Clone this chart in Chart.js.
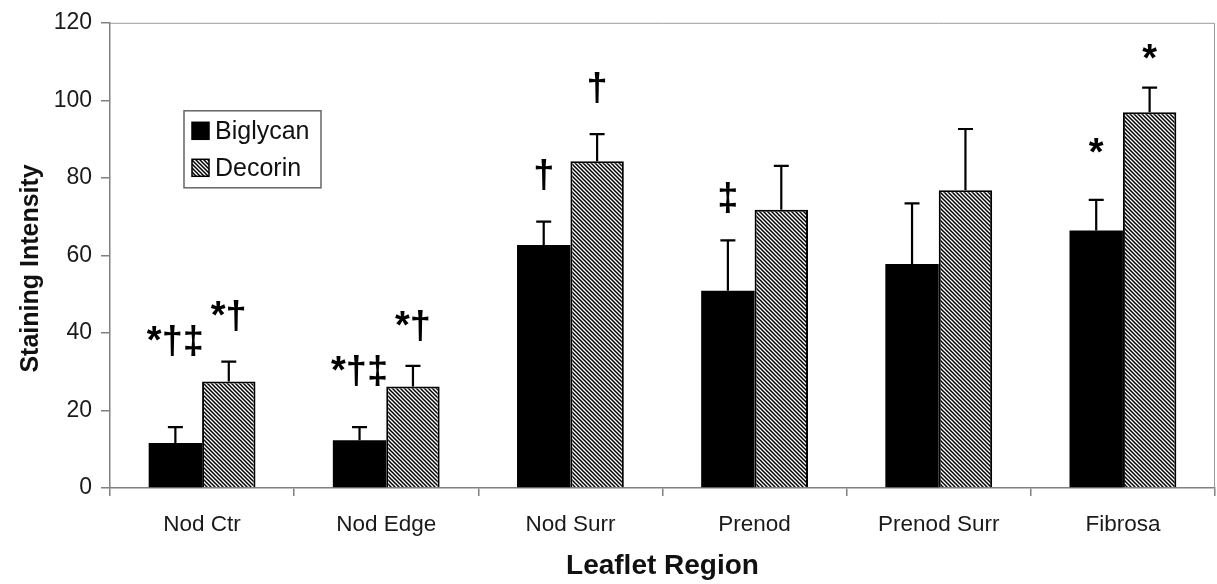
<!DOCTYPE html>
<html>
<head>
<meta charset="utf-8">
<script src="https://cdn.jsdelivr.net/npm/chart.js@4.4.1/dist/chart.umd.min.js"></script>
<style>
  html, body { margin: 0; padding: 0; background: #fff; }
  #wrap { width: 1217px; height: 584px; }
</style>
</head>
<body>
<div id="wrap"><canvas id="chart" width="1217" height="584"></canvas></div>
<script>
// Data
const regions = ["Nod Ctr", "Nod Edge", "Nod Surr", "Prenod", "Prenod Surr", "Fibrosa"];
const biglycan   = [11.6, 12.3, 62.7, 50.9, 57.8, 66.4];
const biglycanSd = [4.1, 3.4, 6.0, 13.0, 15.6, 7.9];
const decorin    = [27.5, 26.2, 84.3, 71.8, 76.8, 96.9];
const decorinSd  = [5.1, 5.3, 7.0, 11.3, 15.8, 6.4];

// significance marks and the value level they sit at
const biglycanMarks  = ["*†‡", "*†‡", "†", "‡", "", "*"];
const biglycanMarkAt = [37.5, 29.7, 80.4, 74.5, null, 86];
const decorinMarks   = ["*†", "*†", "†", "", "", "*"];
const decorinMarkAt  = [44, 41.3, 102.7, null, null, 110.2];

const yTicks = [0, 20, 40, 60, 80, 100, 120];
const yTitle = "Staining Intensity";

const FONT = "'Liberation Sans', Arial, Helvetica, sans-serif";
const AXIS_GRAY = "#808080";

function hatch(){
  const s = 4;
  const c = document.createElement("canvas");
  c.width = s; c.height = s;
  const p = c.getContext("2d");
  p.fillStyle = "#fff";
  p.fillRect(0, 0, s, s);
  p.strokeStyle = "#000";
  p.lineWidth = 1.5;
  p.beginPath();
  for (let k = -1; k <= 1; k++){
    p.moveTo(k * s - 1, -1);
    p.lineTo(k * s + s + 1, s + 1);
  }
  p.stroke();
  return p.createPattern(c, "repeat");
}
const hatchFill = hatch();

const sdList   = [biglycanSd, decorinSd];
const markList = [biglycanMarks, decorinMarks];
const markAt   = [biglycanMarkAt, decorinMarkAt];

// frame around the plot area + y title
const frame = {
  id: "frame",
  beforeDatasetsDraw(chart){
    const { ctx, chartArea: a } = chart;
    ctx.save();
    ctx.strokeStyle = "#9a9a9a";
    ctx.lineWidth = 1;
    ctx.beginPath();
    ctx.moveTo(a.left, a.top + 0.5);
    ctx.lineTo(a.right - 0.5, a.top + 0.5);
    ctx.lineTo(a.right - 0.5, a.bottom);
    ctx.stroke();

    ctx.translate(31, (a.top + a.bottom) / 2 + 13);
    ctx.rotate(-Math.PI / 2);
    ctx.fillStyle = "#111";
    ctx.font = "bold 25px " + FONT;
    ctx.textAlign = "center";
    ctx.textBaseline = "middle";
    ctx.fillText(yTitle, 0, 0);
    ctx.restore();
  }
};

// upward error bars + significance marks
const errors = {
  id: "errors",
  afterDatasetsDraw(chart){
    const { ctx } = chart;
    const y = chart.scales.y;
    ctx.save();
    chart.data.datasets.forEach((ds, di) => {
      const meta = chart.getDatasetMeta(di);
      meta.data.forEach((bar, i) => {
        const top = y.getPixelForValue(ds.data[i] + sdList[di][i]);
        ctx.strokeStyle = "#000";
        ctx.lineWidth = 2.2;
        ctx.beginPath();
        ctx.moveTo(bar.x, bar.y);
        ctx.lineTo(bar.x, top);
        ctx.moveTo(bar.x - 7.5, top);
        ctx.lineTo(bar.x + 7.5, top);
        ctx.stroke();

        const m = markList[di][i];
        if (m){
          ctx.fillStyle = "#000";
          ctx.font = "bold 38px " + FONT;
          ctx.textAlign = "center";
          ctx.textBaseline = "middle";
          ctx.fillText(m, bar.x, y.getPixelForValue(markAt[di][i]));
        }
      });
    });
    ctx.restore();
  }
};

// boxed legend inside the plot
const boxLegend = {
  id: "boxLegend",
  afterDraw(chart){
    const { ctx, chartArea: a } = chart;
    const x0 = a.left + 74, y0 = a.top + 88, w = 137, h = 77;
    ctx.save();
    ctx.fillStyle = "#fff";
    ctx.fillRect(x0, y0, w, h);
    ctx.strokeStyle = "#666";
    ctx.lineWidth = 1.5;
    ctx.strokeRect(x0, y0, w, h);
    chart.data.datasets.forEach((ds, di) => {
      const cy = y0 + 20 + di * 37;
      ctx.fillStyle = ds.backgroundColor;
      ctx.fillRect(x0 + 8, cy - 8.5, 17, 17);
      ctx.strokeStyle = "#000";
      ctx.lineWidth = 1.5;
      ctx.strokeRect(x0 + 8, cy - 8.5, 17, 17);
      ctx.fillStyle = "#111";
      ctx.font = "25px " + FONT;
      ctx.textAlign = "left";
      ctx.textBaseline = "middle";
      ctx.fillText(ds.label, x0 + 31, cy + 1);
    });
    ctx.restore();
  }
};

new Chart(document.getElementById("chart"), {
  type: "bar",
  data: {
    labels: regions,
    datasets: [
      { label: "Biglycan", data: biglycan, backgroundColor: "#000", borderColor: "#000", borderWidth: 0 },
      { label: "Decorin",  data: decorin,  backgroundColor: hatchFill, borderColor: "#000", borderWidth: 2, borderSkipped: "bottom" },
    ]
  },
  options: {
    responsive: false,
    animation: false,
    layout: { padding: { top: 21, right: 2, left: 0, bottom: 0 } },
    datasets: { bar: { categoryPercentage: 0.58, barPercentage: 1.0 } },
    plugins: { legend: { display: false }, tooltip: { enabled: false } },
    scales: {
      x: {
        grid: { offset: true, drawOnChartArea: false, color: AXIS_GRAY, tickLength: 8, lineWidth: 1.5 },
        border: { color: AXIS_GRAY, width: 1.5 },
        ticks: { color: "#1a1a1a", font: { family: FONT, size: 22.5 }, padding: 15, maxRotation: 0 },
        title: { display: true, text: "Leaflet Region", color: "#111",
                 font: { family: FONT, size: 28, weight: "bold", lineHeight: 1.2 },
                 padding: { top: 0, bottom: 1 } },
        afterFit(s){ s.height = 96; }
      },
      y: {
        min: 0, max: 120,
        afterBuildTicks(s){ s.ticks = yTicks.map(v => ({ value: v })); },
        grid: { drawOnChartArea: false, color: AXIS_GRAY, tickLength: 9, lineWidth: 1.5 },
        border: { color: AXIS_GRAY, width: 1.5 },
        ticks: { color: "#1a1a1a", font: { family: FONT, size: 23 }, padding: 9 },
        afterFit(s){ s.width = 110; }
      }
    }
  },
  plugins: [frame, errors, boxLegend]
});
</script>
</body>
</html>
